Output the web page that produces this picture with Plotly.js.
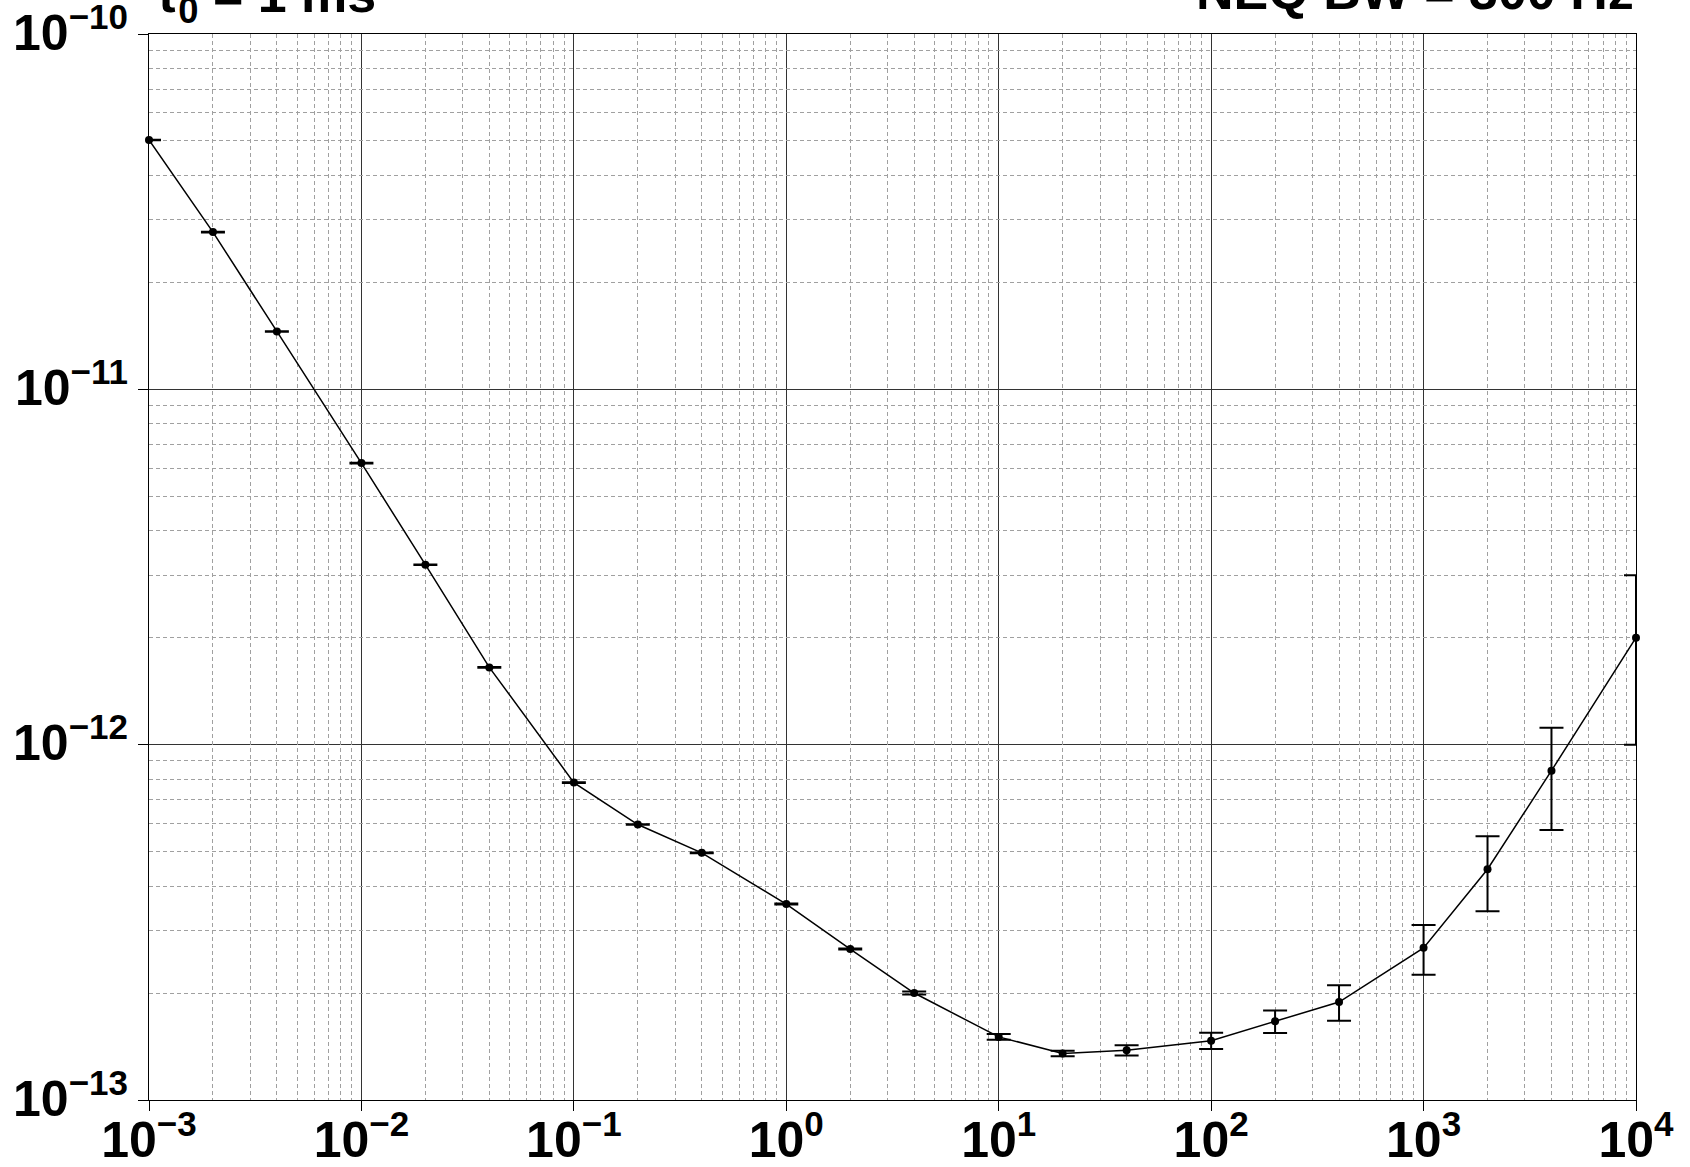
<!DOCTYPE html>
<html>
<head>
<meta charset="utf-8">
<script src="https://cdn.plot.ly/plotly-3.0.1.min.js"></script>
<style>html,body{margin:0;padding:0;background:#fff;}#chart{width:1690px;height:1167px;}</style>
</head>
<body>
<div id="chart"></div>
<script>
// averaging time tau (s)
const tau = [0.001, 0.002, 0.004, 0.01, 0.02, 0.04, 0.1, 0.2, 0.4, 1, 2, 4, 10, 20, 40, 100, 200, 400, 1000, 2000, 4000, 10000];
// Allan deviation
const adev = [5.03e-11, 2.77e-11, 1.455e-11, 6.20e-12, 3.21e-12, 1.65e-12, 7.82e-13, 5.96e-13, 4.96e-13, 3.56e-13, 2.66e-13, 2.00e-13, 1.505e-13, 1.352e-13, 1.38e-13, 1.468e-13, 1.665e-13, 1.887e-13, 2.68e-13, 4.46e-13, 8.45e-13, 2.00e-12];
// error bars (symmetric)
const adevErr = [1e-13, 5e-14, 3e-14, 1.2e-14, 6e-15, 3e-15, 1.5e-15, 1.2e-15, 1e-15, 1e-15, 1e-15, 2e-15, 2.8e-15, 2.5e-15, 4.5e-15, 7.7e-15, 1.22e-14, 2.15e-14, 4.3e-14, 1.06e-13, 2.7e-13, 1.0e-12];

// tick labels
const xTickVals = [1e-3, 1e-2, 1e-1, 1e0, 1e1, 1e2, 1e3, 1e4];
const xTickText = ['10<sup>−3</sup>', '10<sup>−2</sup>', '10<sup>−1</sup>', '10<sup>0</sup>', '10<sup>1</sup>', '10<sup>2</sup>', '10<sup>3</sup>', '10<sup>4</sup>'];
const yTickVals = [1e-13, 1e-12, 1e-11, 1e-10];
const yTickText = ['10<sup>−13</sup>', '10<sup>−12</sup>', '10<sup>−11</sup>', '10<sup>−10</sup>'];
const minorMult = [2, 3, 4, 5, 6, 7, 8, 9];

const titleLeft = 'τ<sub>0</sub> = 1 ms';
const titleRight = 'NEQ BW = 300 Hz';

function minorVals(decades) {
  const out = [];
  decades.forEach(d => minorMult.forEach(m => out.push(m * d)));
  return out;
}

const FONT = 'Liberation Sans, Arial, Helvetica, sans-serif';

const trace = {
  x: tau, y: adev, type: 'scatter', mode: 'lines+markers',
  cliponaxis: false,
  line: {color: '#000', width: 1.5},
  marker: {color: '#000', size: 8, symbol: 'circle'},
  error_y: {type: 'data', array: adevErr, visible: true, color: '#000', thickness: 2, width: 12},
  hoverinfo: 'x+y'
};
// empty trace that carries the minor-grid overlay axes
const gridTrace = {x: [], y: [], xaxis: 'x2', yaxis: 'y2', type: 'scatter', mode: 'markers', hoverinfo: 'skip'};

function majorAxis(range, vals, text) {
  return {
    type: 'log', range: range, tickmode: 'array', tickvals: vals, ticktext: text,
    showline: true, linecolor: '#000', linewidth: 1, mirror: true,
    ticks: 'outside', ticklen: 10, tickcolor: '#000', tickwidth: 1,
    showgrid: true, gridcolor: '#333', gridwidth: 1,
    zeroline: false, ticklabeloverflow: 'allow',
    tickfont: {family: FONT, size: 50, color: '#000', weight: 'bold'}
  };
}
function minorAxis(range, decades, over, anchor) {
  return {
    type: 'log', range: range, overlaying: over, anchor: anchor,
    tickmode: 'array', tickvals: minorVals(decades),
    showgrid: true, gridcolor: '#a0a0a0', gridwidth: 1, griddash: '4px,3px',
    showticklabels: false, ticks: '', showline: false, zeroline: false
  };
}

const layout = {
  width: 1690, height: 1167,
  margin: {l: 149, r: 54, t: 34, b: 67},
  paper_bgcolor: '#fff', plot_bgcolor: '#fff',
  showlegend: false,
  xaxis: Object.assign(majorAxis([-3, 4], xTickVals, xTickText), {ticklabelstandoff: -14}),
  yaxis: Object.assign(majorAxis([-13, -10], yTickVals, yTickText), {ticklabelshift: -2}),
  xaxis2: minorAxis([-3, 4], xTickVals.slice(0, 7), 'x', 'y'),
  yaxis2: minorAxis([-13, -10], yTickVals.slice(0, 3), 'y', 'x'),
  annotations: [
    {text: titleLeft, xref: 'paper', yref: 'paper', x: 0.003, y: 1, yshift: 1, xanchor: 'left', yanchor: 'bottom',
     showarrow: false, font: {family: FONT, size: 52, color: '#000', weight: 'bold'}},
    {text: titleRight, xref: 'paper', yref: 'paper', x: 1, y: 1, yshift: 12, xanchor: 'right', yanchor: 'bottom',
     showarrow: false, font: {family: FONT, size: 52, color: '#000', weight: 'bold'}}
  ]
};

Plotly.newPlot('chart', [gridTrace, trace], layout, {displayModeBar: false, staticPlot: true});
</script>
</body>
</html>
